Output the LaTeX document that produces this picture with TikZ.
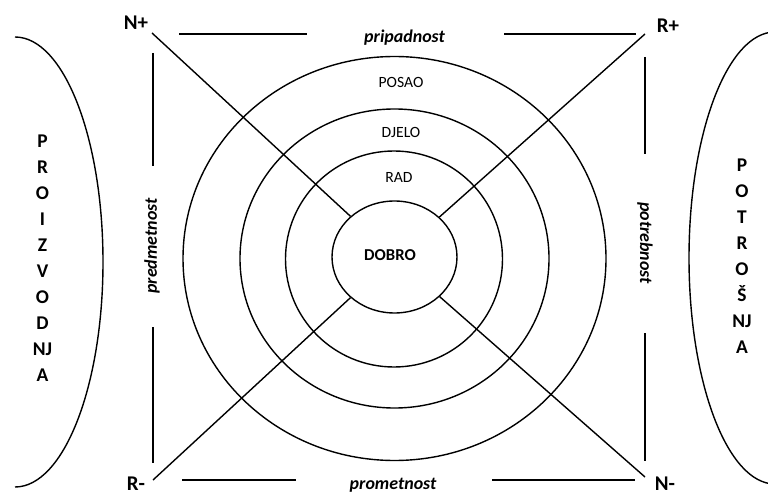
\documentclass[tikz,border=0pt]{standalone}
\usepackage{fontspec}
\setmainfont{Carlito}
\usetikzlibrary{shapes.geometric}
\begin{document}
\begin{tikzpicture}[x=1bp,y=-1bp,
  ln/.style={line width=1.4bp},
  corner/.style={font=\fontsize{21}{25}\selectfont\bfseries, inner sep=0pt},
  side/.style={font=\fontsize{18}{21}\selectfont\bfseries\itshape, inner sep=0pt},
  ringlbl/.style={font=\fontsize{15.7}{18}\selectfont, inner sep=0pt},
  vlet/.style={font=\fontsize{19.5}{22}\selectfont\bfseries, anchor=base, inner sep=0pt},
]
\useasboundingbox (0,0) rectangle (768,495);
\clip (0,0) rectangle (768,495);

% rings
\draw[ln] (394.5,258.5) ellipse [x radius=211.5, y radius=202];
\draw[ln] (394.5,258.5) ellipse [x radius=154.5, y radius=149.5];
\draw[ln] (394,259) ellipse [x radius=108.5, y radius=108];
\node[ln, draw, ellipse, minimum width=125bp, minimum height=112bp, inner sep=0pt] (dobro) at (394.5,257) {};
\node[font=\fontsize{16.7}{19}\selectfont\bfseries, inner sep=0pt] (dobrotxt) at (390,255) {DOBRO};

\node[ringlbl] (posao) at (401,82) {POSAO};
\node[ringlbl] (djelo) at (401,132.5) {DJELO};
\node[ringlbl] (rad) at (399,177.5) {RAD};

% corners
\coordinate (cNp) at (152,33);
\coordinate (cRp) at (645,34);
\coordinate (cRm) at (153,480);
\coordinate (cNm) at (645,477);
\node[corner] (Np) at (136,22.5) {N+};
\node[corner] (Rp) at (668,26) {R+};
\node[corner] (Rm) at (136,483.5) {R-};
\node[corner] (Nm) at (665,484) {N-};

\draw[ln] (cNp) -- (dobro);
\draw[ln] (cRp) -- (dobro);
\draw[ln] (cRm) -- (dobro);
\draw[ln] (cNm) -- (dobro);

% frame segments
\draw[ln] (179,34) -- (307,34);
\draw[ln] (504,34) -- (636,34);
\draw[ln] (182,480) -- (296,480);
\draw[ln] (492,480) -- (635,480);
\draw[ln] (153,53) -- (153,166);
\draw[ln] (153,327) -- (153,463);
\draw[ln] (645,57) -- (645,154);
\draw[ln] (645,333) -- (645,461);

% side labels
\node[side] (prip) at (404.5,37.5) {pripadnost};
\node[side] (prom) at (393,485.5) {prometnost};
\node[side, rotate=90] (pred) at (152,246) {predmetnost};
\node[side, rotate=-90] (potr) at (645,243) {potrebnost};

% outer arcs
\draw[ln] (15,37) arc[start angle=-90, end angle=90, x radius=88, y radius=225];
\draw[ln] (775,32) arc[start angle=270, end angle=90, x radius=86, y radius=226];

% vertical words
\foreach \l [count=\i from 0] in {P,R,O,I,Z,V,O,D,NJ,A}
  \node[vlet] (pz\i) at (42.5,148+25.9*\i) {\l};
\foreach \l [count=\i from 0] in {P,O,T,R,O,Š,NJ,A}
  \node[vlet] (pt\i) at (742,172+25.95*\i) {\l};
\end{tikzpicture}
\end{document}
